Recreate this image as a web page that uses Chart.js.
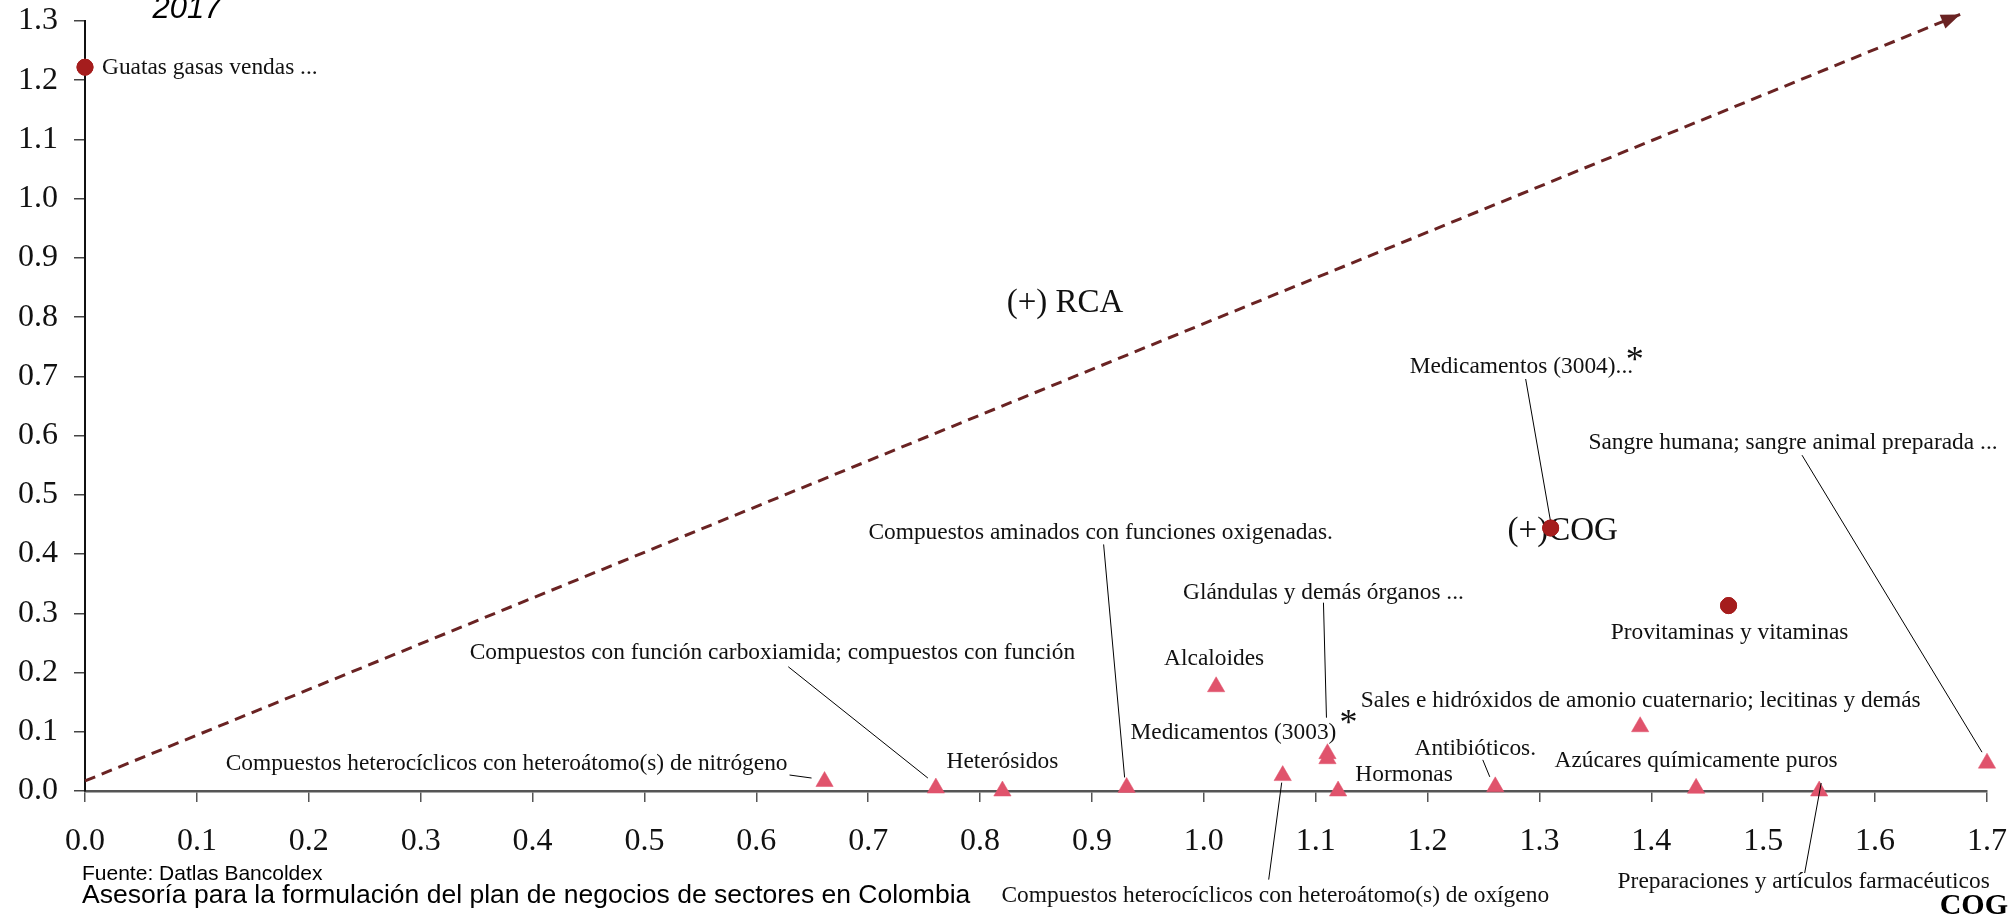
<!DOCTYPE html>
<html><head><meta charset="utf-8">
<script src="https://cdn.jsdelivr.net/npm/chart.js@4/dist/chart.umd.min.js"></script>
<style>html,body{margin:0;padding:0;background:#fff;}#wrap{width:2010px;height:915px;position:relative;}canvas{display:block;}</style>
</head><body><div id="wrap"><canvas id="c" width="2010" height="915"></canvas></div>
<script>
// ---------- DATA ----------
const productNames = [
  'Guatas gasas vendas ...',
  'Medicamentos (3004)...',
  'Provitaminas y vitaminas',
  'Compuestos heterocíclicos con heteroátomo(s) de nitrógeno',
  'Compuestos con función carboxiamida; compuestos con función',
  'Heterósidos',
  'Compuestos aminados con funciones oxigenadas.',
  'Alcaloides',
  'Compuestos heterocíclicos con heteroátomo(s) de oxígeno',
  'Glándulas y demás órganos ...',
  'Medicamentos (3003)',
  'Hormonas',
  'Antibióticos.',
  'Sales e hidróxidos de amonio cuaternario; lecitinas y demás',
  'Azúcares químicamente puros',
  'Preparaciones y artículos farmacéuticos',
  'Sangre humana; sangre animal preparada ...'
];
const cogValues = [0.0, 1.310, 1.469, 0.661, 0.7605, 0.820, 0.931, 1.011, 1.0705, 1.1105, 1.1105, 1.120, 1.2605, 1.390, 1.440, 1.550, 1.700];
const rcaValues = [1.222, 0.444, 0.313, 0.016, 0.005, 0.0, 0.006, 0.176, 0.026, 0.063, 0.0545, 0.0, 0.007, 0.1085, 0.0045, 0.0, 0.047];
const markerKinds = ['circle','circle','circle','triangle','triangle','triangle','triangle','triangle','triangle','triangle','triangle','triangle','triangle','triangle','triangle','triangle','triangle'];
const starred = ['Medicamentos (3004)...', 'Medicamentos (3003)'];
const xTickValues = [0.0,0.1,0.2,0.3,0.4,0.5,0.6,0.7,0.8,0.9,1.0,1.1,1.2,1.3,1.4,1.5,1.6,1.7];
const yTickValues = [0.0,0.1,0.2,0.3,0.4,0.5,0.6,0.7,0.8,0.9,1.0,1.1,1.2,1.3];
const trendCog = [0.0, 1.676];
const trendRca = [0.017, 1.311];
const quadrantTexts = ['(+) RCA', '(+)COG'];
const quadrantCog = [0.876, 1.3208];
const quadrantRca = [0.823, 0.4378];
const titleText = '2017';
const xAxisTitle = 'COG';
const sourceText = 'Fuente: Datlas Bancoldex';
const footerText = 'Asesoría para la formulación del plan de negocios de sectores en Colombia';

// ---------- LAYOUT (label offsets in px relative to each point) ----------
const labelLayout = [
  {dx:17, dy:1, align:'left'},
  {dx:-141, dy:-161, align:'left', leader:[-25,-149,0,-6], star:[84,-175]},
  {dx:1, dy:27, align:'center'},
  {dx:-37, dy:-17.5, align:'right', leader:[-35,-6.5,-13,-3.5]},
  {dx:-163.5, dy:-135, align:'center', leader:[-147.6,-121.3,-8,-10]},
  {dx:0, dy:-29, align:'center'},
  {dx:-26, dy:-255, align:'center', leader:[-23,-243,-2,-10]},
  {dx:-2, dy:-28, align:'center'},
  {dx:-7.4, dy:120, align:'center', leader:[-14,104,-1,7]},
  {dx:-4, dy:-161, align:'center', leader:[-4,-151,-1,-36]},
  {dx:-94, dy:-26, align:'center', star:[21,-43]},
  {dx:66, dy:-16.5, align:'center'},
  {dx:-20, dy:-38, align:'center', leader:[-12.5,-27,-5.5,-10]},
  {dx:0.6, dy:-26, align:'center'},
  {dx:0, dy:-27, align:'center'},
  {dx:-15.5, dy:91, align:'center', leader:[2,-8,-14.5,82]},
  {dx:-194, dy:-320, align:'center', leader:[-185,-308,-5,-11]}
];

const SERIF = '"Liberation Serif", "Times New Roman", serif';
const SANS = '"Liberation Sans", Arial, sans-serif';

const circlePts = [], trianglePts = [];
cogValues.forEach((c, i) => {
  const p = {x: c, y: rcaValues[i], name: productNames[i], idx: i};
  (markerKinds[i] === 'circle' ? circlePts : trianglePts).push(p);
});
const trendPts = trendCog.map((c, i) => ({x: c, y: trendRca[i]}));

const annotPlugin = {
  id: 'annot',
  afterDatasetsDraw(chart) {
    const ctx = chart.ctx;
    const xs = chart.scales.x, ys = chart.scales.y;
    // arrowhead on trend line
    const n = trendPts.length;
    const tx = xs.getPixelForValue(trendPts[n-1].x), ty = ys.getPixelForValue(trendPts[n-1].y);
    const fx = xs.getPixelForValue(trendPts[n-2].x), fy = ys.getPixelForValue(trendPts[n-2].y);
    const ang = Math.atan2(ty - fy, tx - fx);
    ctx.save();
    ctx.fillStyle = '#6a2323';
    ctx.beginPath();
    const L = 19, W = 7.5;
    ctx.moveTo(tx, ty);
    ctx.lineTo(tx - L*Math.cos(ang) + W*Math.sin(ang), ty - L*Math.sin(ang) - W*Math.cos(ang));
    ctx.lineTo(tx - L*Math.cos(ang) - W*Math.sin(ang), ty - L*Math.sin(ang) + W*Math.cos(ang));
    ctx.closePath();
    ctx.fill();
    ctx.restore();

    // product labels
    ctx.save();
    ctx.fillStyle = '#111';
    ctx.textBaseline = 'middle';
    ctx.font = '23.4px ' + SERIF;
    cogValues.forEach((c, i) => {
      const px = xs.getPixelForValue(c), py = ys.getPixelForValue(rcaValues[i]);
      const lay = labelLayout[i];
      if (lay.leader) {
        ctx.strokeStyle = '#000';
        ctx.lineWidth = 1;
        ctx.beginPath();
        ctx.moveTo(px + lay.leader[0], py + lay.leader[1]);
        ctx.lineTo(px + lay.leader[2], py + lay.leader[3]);
        ctx.stroke();
      }
      ctx.textAlign = lay.align;
      ctx.fillText(productNames[i], px + lay.dx, py + lay.dy);
      if (lay.star && starred.includes(productNames[i])) {
        ctx.save();
        ctx.font = '36px ' + SERIF;
        ctx.textAlign = 'center';
        ctx.textBaseline = 'alphabetic';
        ctx.fillText('*', px + lay.star[0], py + lay.star[1] + 18);
        ctx.restore();
      }
    });
    // quadrant labels
    ctx.font = '33px ' + SERIF;
    ctx.textAlign = 'center';
    quadrantTexts.forEach((t, i) => {
      ctx.fillText(t, xs.getPixelForValue(quadrantCog[i]), ys.getPixelForValue(quadrantRca[i]));
    });
    ctx.restore();

    // circle markers drawn above text (as in reference, (+)COG sits under the dot)
    const meta = chart.getDatasetMeta(1);
    meta.data.forEach(el => el.draw(ctx));
  },
  afterDraw(chart) {
    const ctx = chart.ctx;
    ctx.save();
    ctx.fillStyle = '#000';
    ctx.font = 'italic 31px ' + SANS;
    ctx.textAlign = 'center';
    ctx.textBaseline = 'alphabetic';
    ctx.fillText(titleText, 187, 18);
    ctx.textAlign = 'left';
    ctx.textBaseline = 'middle';
    ctx.font = '21px ' + SANS;
    ctx.fillText(sourceText, 82, 874);
    ctx.font = '26.5px ' + SANS;
    ctx.fillText(footerText, 82, 896);
    ctx.font = 'bold 30px ' + SERIF;
    ctx.textAlign = 'right';
    ctx.textBaseline = 'alphabetic';
    ctx.fillText(xAxisTitle, 2008, 914);
    ctx.restore();
  }
};

const fmt = v => Number(v).toFixed(1);
const zeroPad = s => { s.paddingTop = 0; s.paddingBottom = 0; s.paddingLeft = 0; s.paddingRight = 0; };

new Chart(document.getElementById('c'), {
  type: 'scatter',
  data: {
    datasets: [
      {
        type: 'line', data: trendPts, borderColor: '#6a2323', borderWidth: 3,
        borderDash: [11, 7], pointRadius: 0, fill: false, clip: false, tension: 0
      },
      {
        data: circlePts, pointStyle: 'circle', pointRadius: 8,
        backgroundColor: '#a51d1d', borderColor: '#a51d1d', borderWidth: 1, clip: false
      },
      {
        data: trianglePts, pointStyle: 'triangle', pointRadius: 10,
        backgroundColor: '#e0536c', borderColor: '#e0536c', borderWidth: 0.5, clip: false
      }
    ]
  },
  options: {
    responsive: false,
    animation: false,
    devicePixelRatio: 1,
    events: [],
    layout: {padding: {top: 21, right: 23, bottom: 64, left: 0}},
    plugins: {legend: {display: false}, tooltip: {enabled: false}, title: {display: false}},
    scales: {
      x: {
        type: 'linear', min: 0, max: 1.7,
        afterBuildTicks: s => { s.ticks = xTickValues.map(v => ({value: v})); },
        afterFit: s => { s.height = 60; zeroPad(s); },
        ticks: {callback: fmt, font: {family: SERIF, size: 32}, color: '#111', padding: 20, maxRotation: 0, autoSkip: false},
        grid: {drawOnChartArea: false, drawTicks: true, tickLength: 11, color: '#555', lineWidth: 1.5},
        border: {color: '#555', width: 2.5}
      },
      y: {
        type: 'linear', min: 0, max: 1.3,
        afterBuildTicks: s => { s.ticks = yTickValues.map(v => ({value: v})); },
        afterFit: s => { s.width = 85; zeroPad(s); },
        ticks: {callback: fmt, font: {family: SERIF, size: 32}, color: '#111', padding: 16, autoSkip: false},
        grid: {drawOnChartArea: false, drawTicks: true, tickLength: 11, color: '#444', lineWidth: 1.5},
        border: {color: '#111', width: 2}
      }
    }
  },
  plugins: [annotPlugin]
});
</script></body></html>
